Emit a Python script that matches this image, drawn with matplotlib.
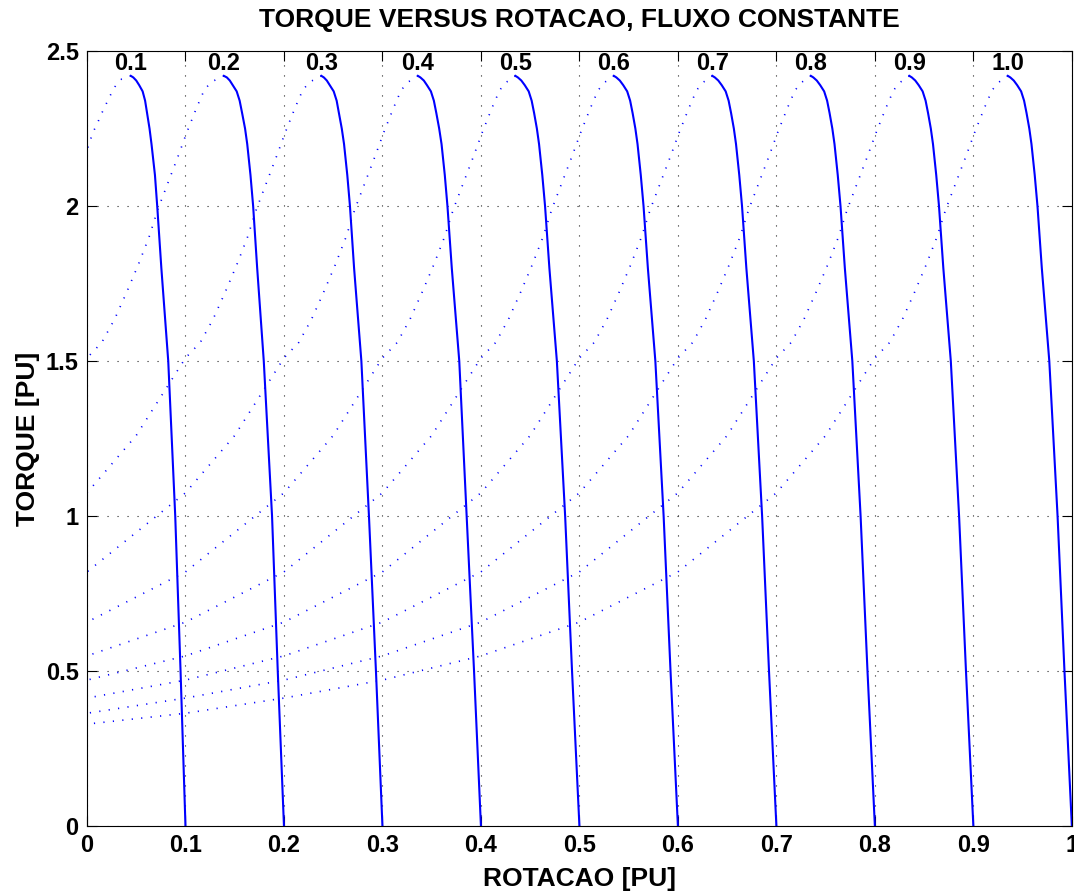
import numpy as np
import matplotlib
matplotlib.use('Agg')
import matplotlib.pyplot as plt

plt.rcParams.update({
    'font.family': 'Liberation Sans', 'font.weight': 'bold',
    'axes.linewidth': 0.8,
})

# ── data ──────────────────────────────────────────────────────────────────────
FREQ = [0.1, 0.2, 0.3, 0.4, 0.5, 0.6, 0.7, 0.8, 0.9, 1.0]   # PU, curve labels

# stable (solid) branch: torque levels and slip frequency (f - speed) per curve
SOLID_TORQUE = [2.42, 2.415, 2.405, 2.39, 2.37, 2.34, 2.30, 2.25, 2.20, 2.10,
                2.00, 1.80, 1.50, 1.00, 0.50, 0.00]
SOLID_SLIP = [
    [0.0555, 0.0530, 0.0500, 0.0470, 0.0435, 0.0410, 0.0390, 0.0365, 0.0345,
     0.0310, 0.0287, 0.0245, 0.0175, 0.0104, 0.0050, 0.0],
    [0.0610, 0.0580, 0.0550, 0.0520, 0.0480, 0.0450, 0.0425, 0.0395, 0.0373,
     0.0340, 0.0313, 0.0272, 0.0205, 0.0121, 0.0063, 0.0],
    [0.0620, 0.0595, 0.0565, 0.0535, 0.0495, 0.0465, 0.0442, 0.0413, 0.0390,
     0.0357, 0.0330, 0.0288, 0.0214, 0.0137, 0.0066, 0.0],
    [0.0640, 0.0615, 0.0580, 0.0548, 0.0508, 0.0478, 0.0453, 0.0424, 0.0400,
     0.0367, 0.0340, 0.0296, 0.0220, 0.0145, 0.0070, 0.0],
] + [
    [0.0650, 0.0625, 0.0590, 0.0555, 0.0515, 0.0485, 0.0460, 0.0432, 0.0410,
     0.0377, 0.0349, 0.0305, 0.0229, 0.0145, 0.0075, 0.0]
    for _ in range(6)
]

# unstable (dotted) branch, slip frequency vs torque (curves 0.2 .. 1.0)
DOT_SLIP = [0.074, 0.081, 0.089, 0.099, 0.107, 0.116, 0.128, 0.137, 0.148,
            0.160, 0.172, 0.185, 0.20, 0.25, 0.30, 0.40, 0.50, 0.60, 0.70,
            0.80, 0.90, 1.00]
DOT_TORQUE = [2.40, 2.374, 2.315, 2.235, 2.165, 2.090, 1.990, 1.900, 1.810,
              1.720, 1.635, 1.560, 1.51, 1.26, 1.075, 0.82, 0.658, 0.549,
              0.471, 0.413, 0.364, 0.329]

# dotted branch of the 0.1 curve
F01_DOT_SLIP = [0.0648, 0.0716, 0.0767, 0.0851, 0.0892, 0.0936, 0.097, 0.100]
F01_DOT_TORQUE = [2.41, 2.385, 2.355, 2.299, 2.269, 2.24, 2.21, 2.18]

BLUE = '#0000ff'

# ── figure ────────────────────────────────────────────────────────────────────
fig = plt.figure(figsize=(10.74, 8.96), dpi=100)
ax = fig.add_axes([0.081, 0.078, 0.917, 0.865])

for i, f in enumerate(FREQ):
    s_sol = np.array(SOLID_SLIP[i])
    t_sol = np.array(SOLID_TORQUE)
    s_pk, t_pk = s_sol[0], t_sol[0]

    if i == 0:
        s_dot = np.array(F01_DOT_SLIP); t_dot = np.array(F01_DOT_TORQUE)
    else:
        s_dot = np.array(DOT_SLIP); t_dot = np.array(DOT_TORQUE)
        keep = (s_dot > s_pk + 0.004) & (s_dot <= f + 1e-9)
        s_dot = s_dot[keep]; t_dot = t_dot[keep]
    s_dot = np.concatenate([[s_pk], s_dot]); t_dot = np.concatenate([[t_pk], t_dot])

    ax.plot(f - s_dot, t_dot, color=BLUE, lw=1.2, ls=(0, (0.7, 5)))
    ax.plot(f - s_sol, t_sol, color=BLUE, lw=1.5, solid_joinstyle='round')
    ax.text(f - s_pk, 2.44, f'{f:.1f}', ha='center', va='baseline',
            fontsize=17, fontweight='bold')

ax.set_xlim(0, 1)
ax.set_ylim(0, 2.5)
ax.set_xticks(np.arange(0, 1.01, 0.1))
ax.set_xticklabels(['0'] + [f'{v:.1f}' for v in np.arange(0.1, 0.95, 0.1)] + ['1'])
ax.set_yticks([0, 0.5, 1, 1.5, 2, 2.5])
ax.set_yticklabels(['0', '0.5', '1', '1.5', '2', '2.5'])
ax.tick_params(direction='in', length=7, width=0.8, top=True, right=True,
               labelsize=17, pad=6)
ax.grid(True, color='0.15', lw=0.8, ls=(0, (1, 8)))

ax.set_title('TORQUE VERSUS ROTACAO, FLUXO CONSTANTE', fontsize=19,
             fontweight='bold', pad=17)
ax.set_xlabel('ROTACAO [PU]', fontsize=19, fontweight='bold', labelpad=7)
ax.set_ylabel('TORQUE [PU]', fontsize=19, fontweight='bold', labelpad=4)

fig.savefig('out.png', dpi=100, facecolor='white')
